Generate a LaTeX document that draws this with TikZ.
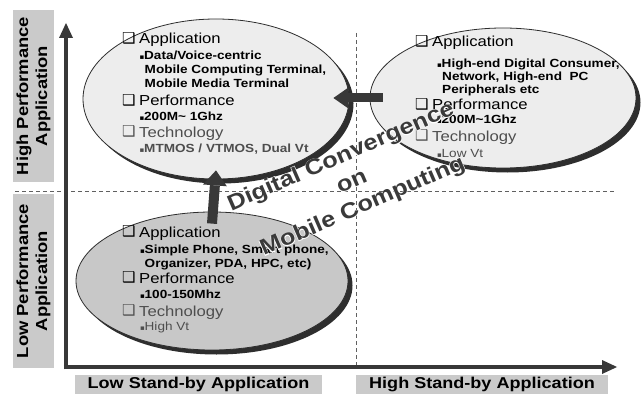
\documentclass[tikz,border=0pt]{standalone}
\usepackage{fontspec}
\setmainfont{Liberation Sans}[FakeStretch=1.15]
\newfontfamily\halofont{Liberation Sans Bold}[FakeStretch=1.15, FakeBold=5]
\newfontfamily\symf{DejaVu Sans}
\usetikzlibrary{shapes.geometric,shadows,arrows.meta}
\definecolor{axisc}{HTML}{383838}
\definecolor{lblc}{HTML}{CACACA}
\definecolor{lightfill}{HTML}{EDEDED}
\definecolor{darkfill}{HTML}{C8C8C8}
\definecolor{shadowc}{HTML}{2E2E2E}
\definecolor{dashc}{HTML}{606060}
\definecolor{techc}{HTML}{4E4E4E}
\definecolor{dcc}{HTML}{3A3A3A}
\newcommand\ckbx{\makebox[17pt][l]{\raisebox{0.3pt}{\symf\fontsize{15}{15}\selectfont ❑}}}
\newcommand\sqb{\makebox[4.5pt][l]{\symf\fontsize{7}{7}\selectfont ▪}}
\tikzset{
  axisarrow/.style={draw=axisc, line width=4.5pt, -{Triangle[length=15pt,width=14pt,line width=0pt]}},
  blockarrow/.style={draw=axisc, line width=10pt, -{Triangle[length=15pt,width=24pt,line width=0pt]}},
  sidearrow/.style={draw=axisc, line width=9pt, -{Triangle[length=15pt,width=21pt,line width=0pt]}},
  dashline/.style={draw=dashc, line width=0.9pt, dash pattern=on 4pt off 3pt},
  lblbox/.style={fill=lblc, inner sep=0pt, align=center, font=\bfseries\fontsize{15.7}{19}\selectfont},
  ell/.style={ellipse, draw=shadowc, line width=0.8pt, inner sep=0pt,
    drop shadow={shadow xshift=4.5pt, shadow yshift=-4.5pt, fill=shadowc, opacity=1}},
  hd/.style={anchor=base west, inner sep=0pt, font=\fontsize{14.5}{16}\selectfont},
  sb/.style={anchor=base west, inner sep=0pt, font=\bfseries\fontsize{11.8}{13}\selectfont},
  tech/.style={text=techc},
  dctext/.style={inner sep=0pt, align=center, rotate=23.5,
    font=\bfseries\fontsize{22}{27}\selectfont}
}
\begin{document}
\begin{tikzpicture}[x=1pt,y=-1pt]
\fill[white] (0,0) rectangle (643,396);
\useasboundingbox (0,0) rectangle (643,396);

% axis labels
\node[lblbox, rotate=90, minimum width=172pt, minimum height=41pt, font=\bfseries\fontsize{16}{19}\selectfont] (yhi) at (33.5,96) {High Performance\\Application};
\node[lblbox, rotate=90, minimum width=174pt, minimum height=41pt, font=\bfseries\fontsize{16}{19}\selectfont] (ylo) at (33.5,281) {Low Performance\\Application};
\node[lblbox, minimum width=247pt, minimum height=19pt] (xlo) at (198.5,384.5) {Low Stand-by Application};
\node[lblbox, minimum width=252pt, minimum height=19pt] (xhi) at (482,384.5) {High Stand-by Application};

% dashed dividers
\coordinate (hl) at (15,191);
\coordinate (hr) at (615,191);
\coordinate (vt) at (356,33);
\coordinate (vb) at (356,367);
\draw[dashline] (hl) -- (hr);
\draw[dashline] (vt) -- (vb);

% axes
\coordinate (o) at (66,367);
\coordinate (ytip) at (66,23);
\coordinate (xtip) at (617,367);
\draw[axisarrow] ([yshift=-2.25pt]o) -- (ytip);
\draw[axisarrow] ([xshift=-2.25pt]o) -- (xtip);

% ellipses
\node[ell, fill=lightfill, minimum width=266pt, minimum height=140pt] (e2) at (503,98) {};
\node[ell, fill=darkfill, minimum width=272pt, minimum height=138pt] (e3) at (212,281) {};
\node[ell, fill=lightfill, minimum width=266pt, minimum height=160pt] (e1) at (216,99) {};

% arrows between ellipses
\draw[blockarrow] ([yshift=-12pt]e3.north) -- ([yshift=9pt]e1.south);
\draw[sidearrow] ([xshift=13pt]e2.west) -- ([xshift=-16pt]e1.east |- e2.west);

% text of ellipse 1
\node[hd] (a1) at (122,44) {\ckbx Application};
\node[sb] (a2) at (139.5,60) {\sqb Data/Voice-centric};
\node[sb] (a3) at (144.5,74) {Mobile Computing Terminal,};
\node[sb] (a4) at (144.5,88) {Mobile Media Terminal};
\node[hd] (a5) at (122,106) {\ckbx Performance};
\node[sb] (a6) at (139.5,121) {\sqb 200M\textasciitilde{} 1Ghz};
\node[hd, tech] (a7) at (122,137) {\ckbx Technology};
\node[sb, tech] (a8) at (139.5,152) {\sqb MTMOS / VTMOS, Dual Vt};

% text of ellipse 2
\node[hd] (b1) at (415,47) {\ckbx Application};
\node[sb] (b2) at (437,67) {\sqb High-end Digital Consumer,};
\node[sb] (b3) at (442,80.5) {Network, High-end\ \ PC};
\node[sb] (b4) at (442,94) {Peripherals etc};
\node[hd] (b5) at (415,110) {\ckbx Performance};
\node[sb] (b6) at (437,124) {\sqb 200M\textasciitilde 1Ghz};
\node[hd, tech] (b7) at (415,141) {\ckbx Technology};
\node[sb, tech, font=\fontsize{11.8}{13}\selectfont] (b8) at (437,157) {\sqb Low Vt};

% text of ellipse 3
\node[hd] (c1) at (122,237) {\ckbx Application};
\node[sb] (c2) at (140,253) {\sqb Simple Phone, Smart phone,};
\node[sb] (c3) at (144.5,267) {Organizer, PDA, HPC, etc)};
\node[hd] (c4) at (122,283) {\ckbx Performance};
\node[sb] (c5) at (140,298) {\sqb 100-150Mhz};
\node[hd, tech] (c6) at (122,316) {\ckbx Technology};
\node[sb, tech, font=\fontsize{11.8}{13}\selectfont] (c7) at (140,330) {\sqb High Vt};

% rotated caption with white halo
\node[dctext, text=white, font=\halofont\fontsize{22}{27}\selectfont] (dch) at (352,182) {Digital Convergence\\on\\Mobile Computing};
\node[dctext, text=dcc] (dc) at (352,182) {Digital Convergence\\on\\Mobile Computing};
\end{tikzpicture}
\end{document}
